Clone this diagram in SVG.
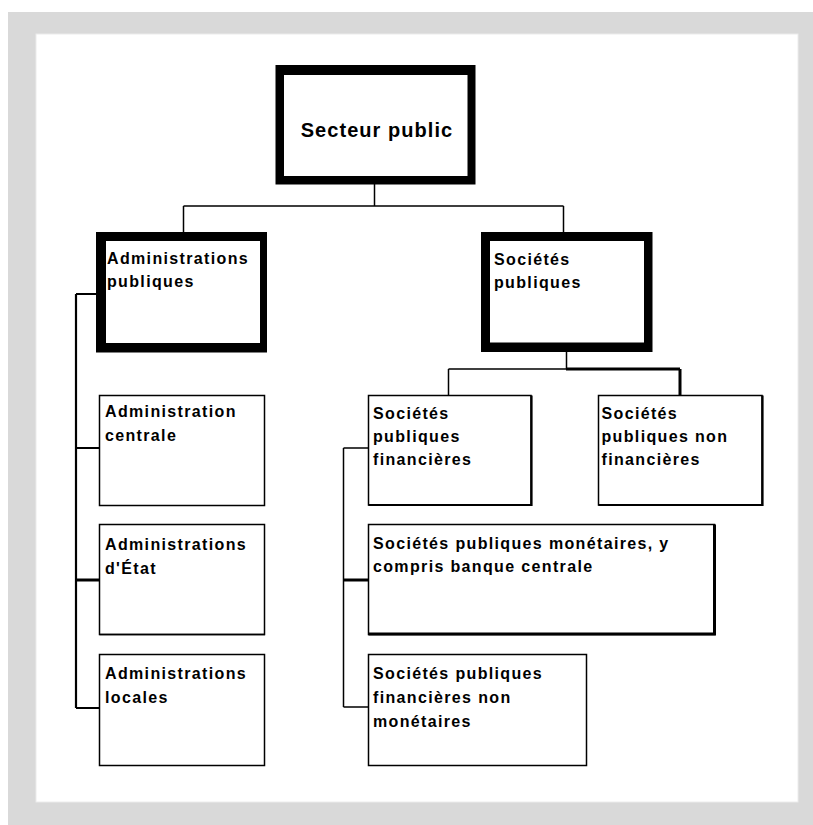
<svg xmlns="http://www.w3.org/2000/svg" width="813" height="825" viewBox="0 0 813 825">
<style>
.t{font-family:"Liberation Sans",Arial,sans-serif;font-weight:bold;font-size:16px;letter-spacing:1.35px;fill:#000}
.big{font-size:20px;letter-spacing:1.05px}
.thin{fill:#fff;stroke:#000;stroke-width:1.5}
.c{fill:none;stroke:#000;stroke-width:1.5}
.c2{fill:none;stroke:#000;stroke-width:2.2}
.c3{fill:none;stroke:#000;stroke-width:3}
</style>
<rect x="8" y="12" width="805" height="813" fill="#d9d9d9"/>
<rect x="36" y="34" width="762" height="768" fill="#fff" stroke="#ececec" stroke-width="1"/>

<g id="connectors">
  <path class="c" d="M374.5,184 V206 M183.5,206 H563.5 M183.5,206 V232 M563.5,206 V232"/>
  <path class="c" d="M566.5,352 V369 M448.5,369 H566.5 M448.5,369 V395"/>
  <path class="c3" d="M566,369 H680 M680,369 V395"/>
  <path class="c2" d="M76,294 V708 M76,294 H96 M76,448 H99 M76,708 H99"/>
  <path class="c3" d="M76,580 H99"/>
  <path class="c" d="M343.5,448 V707 M343.5,448 H368 M343.5,707 H368"/>
  <path class="c3" d="M343.5,580 H368"/>
</g>

<g id="secteur-public">
  <rect x="275.5" y="65" width="200" height="119.5" fill="#000"/>
  <rect x="284" y="75" width="183.5" height="101" fill="#fff"/>
  <text class="t big" x="377" y="137" text-anchor="middle">Secteur public</text>
</g>

<g id="administrations-publiques">
  <rect x="96" y="232" width="171" height="120.5" fill="#000"/>
  <rect x="106" y="241" width="154" height="102" fill="#fff"/>
  <text class="t" x="107" y="263.5">Administrations</text>
  <text class="t" x="107" y="287">publiques</text>
</g>

<g id="societes-publiques">
  <rect x="481" y="232" width="171.5" height="120" fill="#000"/>
  <rect x="490" y="241" width="154" height="101.5" fill="#fff"/>
  <text class="t" x="494" y="265">Sociétés</text>
  <text class="t" x="494" y="288">publiques</text>
</g>

<g id="administration-centrale">
  <rect class="thin" x="99.5" y="395.5" width="165" height="110"/>
  <text class="t" x="105" y="417">Administration</text>
  <text class="t" x="105" y="440.5">centrale</text>
</g>

<g id="administrations-etat">
  <rect class="thin" x="99.5" y="524.5" width="165" height="110"/>
  <path class="c" d="M99.5,634.5 H265"/>
  <text class="t" x="105" y="549.5">Administrations</text>
  <text class="t" x="105" y="574">d'État</text>
</g>

<g id="administrations-locales">
  <rect class="thin" x="99.5" y="654.5" width="165" height="111"/>
  <text class="t" x="105" y="678.5">Administrations</text>
  <text class="t" x="105" y="702.5">locales</text>
</g>

<g id="societes-publiques-financieres">
  <rect class="thin" x="368.5" y="395.5" width="162.5" height="109.5"/>
  <path class="c2" d="M368.5,505 H531.5 V395.5"/>
  <text class="t" x="373" y="418.5">Sociétés</text>
  <text class="t" x="373" y="441.5">publiques</text>
  <text class="t" x="373" y="465">financières</text>
</g>

<g id="societes-publiques-non-financieres">
  <rect class="thin" x="598.5" y="395.5" width="163.5" height="109.5"/>
  <path class="c2" d="M598.5,505 H762.5 V395.5"/>
  <text class="t" x="601.5" y="418.5">Sociétés</text>
  <text class="t" x="601.5" y="441.5">publiques non</text>
  <text class="t" x="601.5" y="465">financières</text>
</g>

<g id="societes-publiques-monetaires">
  <rect class="thin" x="368.5" y="524.5" width="346" height="110"/>
  <path class="c3" d="M368.5,634 H714.5 V524.5"/>
  <text class="t" x="373" y="548.5">Sociétés publiques monétaires, y</text>
  <text class="t" x="373" y="572">compris banque centrale</text>
</g>

<g id="societes-publiques-financieres-non-monetaires">
  <rect class="thin" x="368.5" y="654.5" width="218" height="111"/>
  <text class="t" x="373" y="678.5">Sociétés publiques</text>
  <text class="t" x="373" y="702.5">financières non</text>
  <text class="t" x="373" y="726.5">monétaires</text>
</g>
</svg>
